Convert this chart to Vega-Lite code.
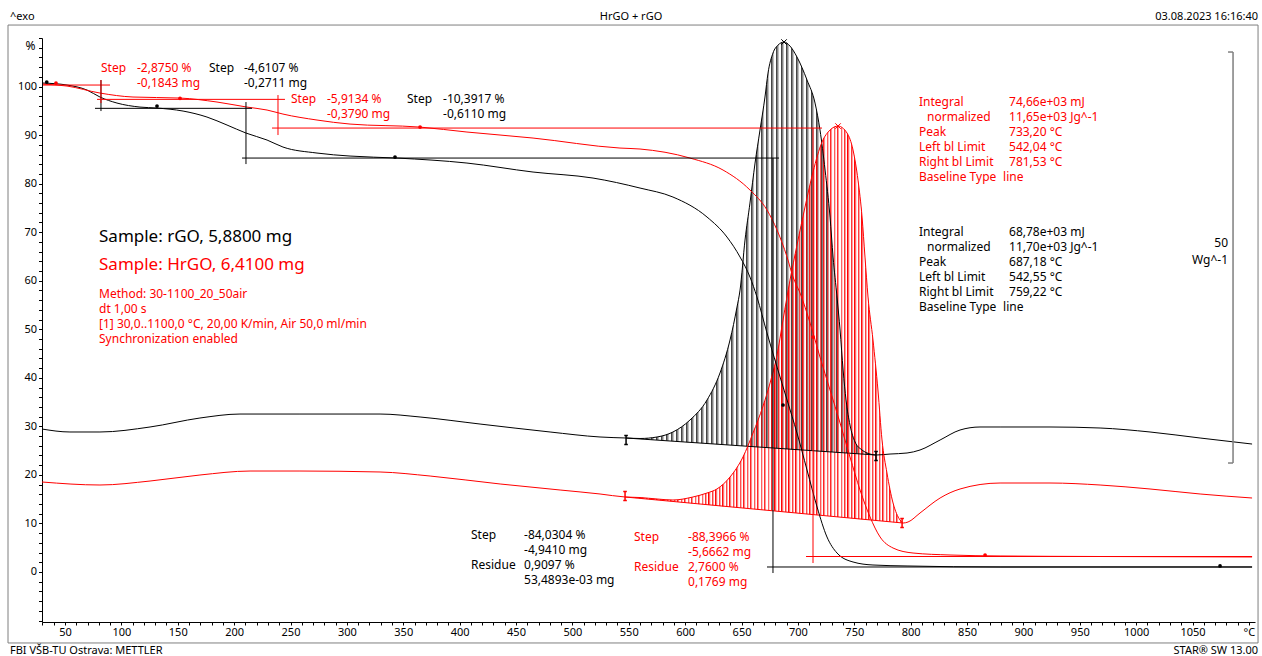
{
"$schema":"https://vega.github.io/schema/vega-lite/v6.json",
"width":1213,"height":584,
"autosize":{"type":"none"},
"padding":{"left":42,"top":38,"right":7,"bottom":34},
"background":"white",
"config":{"view":{"stroke":null},"font":"Noto Sans","text":{"font":"Noto Sans"},
"axis":{"grid":false,"domainColor":"#000","tickColor":"#000","labelColor":"#000","labelFont":"Noto Sans","labelFontSize":11,"titleFont":"Noto Sans","titleColor":"#000","labelOverlap":false}},
"datasets":{
"dsc":[
{"s":"rGO","T":29.6,"v":29.45},{"s":"rGO","T":54.4,"v":28.84},{"s":"rGO","T":81.0,"v":28.84},{"s":"rGO","T":125.4,"v":29.87},{"s":"rGO","T":169.7,"v":31.72},{"s":"rGO","T":205.2,"v":32.54},{"s":"rGO","T":258.4,"v":32.54},{"s":"rGO","T":329.4,"v":32.54},{"s":"rGO","T":364.9,"v":31.93},{"s":"rGO","T":418.1,"v":30.48},{"s":"rGO","T":480.2,"v":28.84},{"s":"rGO","T":524.5,"v":27.81},
{"s":"rGO","T":547.6,"v":27.6,"b":27.6},{"s":"rGO","T":560.0,"v":27.5,"b":27.4},{"s":"rGO","T":575.1,"v":27.81,"b":27.17},{"s":"rGO","T":589.2,"v":28.84,"b":26.94},{"s":"rGO","T":604.3,"v":31.31,"b":26.7},{"s":"rGO","T":619.4,"v":35.43,"b":26.47},{"s":"rGO","T":630.9,"v":40.99,"b":26.28},{"s":"rGO","T":639.8,"v":47.79,"b":26.14},{"s":"rGO","T":646.0,"v":54.58,"b":26.05},{"s":"rGO","T":648.7,"v":58.08,"b":26.0},{"s":"rGO","T":653.1,"v":68.38,"b":25.93},{"s":"rGO","T":657.5,"v":76.0,"b":25.87},{"s":"rGO","T":662.0,"v":84.24,"b":25.79},{"s":"rGO","T":666.4,"v":91.04,"b":25.73},{"s":"rGO","T":670.8,"v":97.84,"b":25.65},{"s":"rGO","T":673.5,"v":102.78,"b":25.6},{"s":"rGO","T":677.9,"v":106.9,"b":25.54},{"s":"rGO","T":682.4,"v":108.55,"b":25.47},{"s":"rGO","T":687.7,"v":109.17,"b":25.39},{"s":"rGO","T":693.0,"v":108.34,"b":25.3},{"s":"rGO","T":699.2,"v":106.08,"b":25.2},{"s":"rGO","T":708.1,"v":101.34,"b":25.06},{"s":"rGO","T":715.2,"v":96.6,"b":24.95},{"s":"rGO","T":719.6,"v":91.04,"b":24.88},{"s":"rGO","T":724.1,"v":82.8,"b":24.82},{"s":"rGO","T":728.5,"v":73.12,"b":24.74},{"s":"rGO","T":731.2,"v":64.88,"b":24.7},{"s":"rGO","T":734.7,"v":56.64,"b":24.64},{"s":"rGO","T":737.4,"v":49.85,"b":24.6},{"s":"rGO","T":740.1,"v":41.61,"b":24.55},{"s":"rGO","T":742.7,"v":35.43,"b":24.51},{"s":"rGO","T":746.2,"v":30.28,"b":24.47},{"s":"rGO","T":750.7,"v":26.78,"b":24.39},{"s":"rGO","T":756.9,"v":25.13,"b":24.29},{"s":"rGO","T":764.0,"v":24.3,"b":24.18},{"s":"rGO","T":769.3,"v":24.1,"b":24.1},
{"s":"rGO","T":781.7,"v":24.3},{"s":"rGO","T":796.8,"v":24.51},{"s":"rGO","T":808.3,"v":25.13},{"s":"rGO","T":826.1,"v":27.19},{"s":"rGO","T":843.8,"v":29.25},{"s":"rGO","T":861.5,"v":29.87},{"s":"rGO","T":879.3,"v":29.87},{"s":"rGO","T":923.6,"v":29.87},{"s":"rGO","T":968.0,"v":29.66},{"s":"rGO","T":1012.3,"v":28.84},{"s":"rGO","T":1056.7,"v":27.6},{"s":"rGO","T":1102.8,"v":26.36},
{"s":"HrGO","T":29.6,"v":18.54},{"s":"HrGO","T":81.0,"v":17.92},{"s":"HrGO","T":125.4,"v":18.74},{"s":"HrGO","T":169.7,"v":19.98},{"s":"HrGO","T":214.1,"v":20.8},{"s":"HrGO","T":258.4,"v":20.8},{"s":"HrGO","T":329.4,"v":20.6},{"s":"HrGO","T":373.8,"v":19.77},{"s":"HrGO","T":435.9,"v":18.13},{"s":"HrGO","T":489.1,"v":16.89},{"s":"HrGO","T":524.5,"v":16.07},
{"s":"HrGO","T":546.7,"v":15.45,"b":15.45},{"s":"HrGO","T":560.0,"v":15.34,"b":15.16},{"s":"HrGO","T":575.1,"v":15.04,"b":14.83},{"s":"HrGO","T":589.2,"v":14.83,"b":14.52},{"s":"HrGO","T":606.9,"v":15.45,"b":14.13},{"s":"HrGO","T":619.4,"v":16.27,"b":13.86},{"s":"HrGO","T":628.2,"v":17.1,"b":13.67},{"s":"HrGO","T":639.8,"v":19.57,"b":13.41},{"s":"HrGO","T":651.3,"v":23.69,"b":13.16},{"s":"HrGO","T":660.2,"v":28.63,"b":12.98},{"s":"HrGO","T":669.1,"v":34.19,"b":12.77},{"s":"HrGO","T":675.3,"v":38.93,"b":12.65},{"s":"HrGO","T":681.5,"v":44.7,"b":12.5},{"s":"HrGO","T":686.8,"v":51.91,"b":12.4},{"s":"HrGO","T":693.0,"v":60.14,"b":12.26},{"s":"HrGO","T":699.2,"v":67.35,"b":12.13},{"s":"HrGO","T":706.3,"v":75.18,"b":11.97},{"s":"HrGO","T":713.4,"v":82.39,"b":11.82},{"s":"HrGO","T":721.4,"v":88.57,"b":11.64},{"s":"HrGO","T":728.5,"v":91.04,"b":11.49},{"s":"HrGO","T":735.6,"v":91.86,"b":11.33},{"s":"HrGO","T":743.6,"v":90.42,"b":11.16},{"s":"HrGO","T":748.9,"v":86.92,"b":11.04},{"s":"HrGO","T":753.3,"v":80.74,"b":10.94},{"s":"HrGO","T":756.9,"v":73.12,"b":10.88},{"s":"HrGO","T":759.5,"v":64.88,"b":10.81},{"s":"HrGO","T":762.2,"v":56.64,"b":10.75},{"s":"HrGO","T":766.6,"v":47.79,"b":10.65},{"s":"HrGO","T":771.0,"v":37.49,"b":10.57},{"s":"HrGO","T":774.6,"v":27.19,"b":10.48},{"s":"HrGO","T":779.0,"v":20.39,"b":10.38},{"s":"HrGO","T":784.4,"v":14.21,"b":10.26},{"s":"HrGO","T":790.6,"v":10.71,"b":10.13},{"s":"HrGO","T":793.3,"v":10.09,"b":10.09},
{"s":"HrGO","T":797.7,"v":10.3},{"s":"HrGO","T":808.3,"v":12.15},{"s":"HrGO","T":826.1,"v":15.24},{"s":"HrGO","T":843.8,"v":17.1},{"s":"HrGO","T":879.3,"v":18.33},{"s":"HrGO","T":923.6,"v":18.33},{"s":"HrGO","T":968.0,"v":17.92},{"s":"HrGO","T":1012.3,"v":17.1},{"s":"HrGO","T":1056.7,"v":16.07},{"s":"HrGO","T":1102.8,"v":15.24}
],
"baselines":[
{"s":"rGO","T":547.6,"v":27.6},{"s":"rGO","T":769.3,"v":24.1},
{"s":"HrGO","T":546.7,"v":15.45},{"s":"HrGO","T":793.3,"v":10.09}
],
"tga":[
{"s":"rGO","T":30.5,"v":100.72},{"s":"rGO","T":51.8,"v":100.31},{"s":"rGO","T":69.5,"v":99.28},{"s":"rGO","T":81.0,"v":97.84},{"s":"rGO","T":96.1,"v":96.6},{"s":"rGO","T":116.5,"v":95.77},{"s":"rGO","T":131.6,"v":95.57},{"s":"rGO","T":154.7,"v":94.95},{"s":"rGO","T":175.9,"v":93.72},{"s":"rGO","T":193.7,"v":92.07},{"s":"rGO","T":210.5,"v":90.42},{"s":"rGO","T":229.2,"v":88.98},{"s":"rGO","T":243.3,"v":87.54},{"s":"rGO","T":273.5,"v":86.3},{"s":"rGO","T":302.8,"v":85.68},{"s":"rGO","T":344.5,"v":85.27},{"s":"rGO","T":406.5,"v":84.24},{"s":"rGO","T":465.1,"v":82.39},{"s":"rGO","T":518.3,"v":81.15},{"s":"rGO","T":560.0,"v":79.09},{"s":"rGO","T":589.2,"v":77.24},{"s":"rGO","T":619.4,"v":73.12},{"s":"rGO","T":637.1,"v":69.0},{"s":"rGO","T":648.7,"v":64.88},{"s":"rGO","T":657.5,"v":60.76},{"s":"rGO","T":663.7,"v":56.64},{"s":"rGO","T":672.6,"v":49.23},{"s":"rGO","T":681.5,"v":42.22},{"s":"rGO","T":690.4,"v":35.43},{"s":"rGO","T":699.2,"v":28.63},{"s":"rGO","T":708.1,"v":21.01},{"s":"rGO","T":717.0,"v":13.39},{"s":"rGO","T":725.8,"v":7.21},{"s":"rGO","T":734.7,"v":3.91},{"s":"rGO","T":748.9,"v":2.06},{"s":"rGO","T":766.6,"v":1.44},{"s":"rGO","T":796.8,"v":1.24},{"s":"rGO","T":879.3,"v":1.03},{"s":"rGO","T":968.0,"v":1.03},{"s":"rGO","T":1102.8,"v":1.03},
{"s":"HrGO","T":30.5,"v":100.51},{"s":"HrGO","T":51.8,"v":100.1},{"s":"HrGO","T":81.0,"v":98.66},{"s":"HrGO","T":110.3,"v":97.84},{"s":"HrGO","T":152.0,"v":97.63},{"s":"HrGO","T":184.8,"v":96.81},{"s":"HrGO","T":211.4,"v":95.77},{"s":"HrGO","T":229.2,"v":95.16},{"s":"HrGO","T":243.3,"v":94.33},{"s":"HrGO","T":273.5,"v":93.1},{"s":"HrGO","T":302.8,"v":92.27},{"s":"HrGO","T":364.9,"v":91.65},{"s":"HrGO","T":406.5,"v":90.63},{"s":"HrGO","T":465.1,"v":89.39},{"s":"HrGO","T":542.2,"v":87.33},{"s":"HrGO","T":560.0,"v":87.13},{"s":"HrGO","T":604.3,"v":85.27},{"s":"HrGO","T":633.6,"v":82.8},{"s":"HrGO","T":657.5,"v":78.68},{"s":"HrGO","T":672.6,"v":74.56},{"s":"HrGO","T":681.5,"v":70.44},{"s":"HrGO","T":690.4,"v":64.88},{"s":"HrGO","T":695.7,"v":60.76},{"s":"HrGO","T":701.9,"v":57.47},{"s":"HrGO","T":710.8,"v":51.29},{"s":"HrGO","T":719.6,"v":44.28},{"s":"HrGO","T":728.5,"v":37.49},{"s":"HrGO","T":737.4,"v":30.69},{"s":"HrGO","T":746.2,"v":23.69},{"s":"HrGO","T":755.1,"v":16.89},{"s":"HrGO","T":764.0,"v":11.33},{"s":"HrGO","T":772.9,"v":7.21},{"s":"HrGO","T":784.4,"v":4.94},{"s":"HrGO","T":802.1,"v":3.91},{"s":"HrGO","T":834.9,"v":3.5},{"s":"HrGO","T":879.3,"v":3.3},{"s":"HrGO","T":968.0,"v":3.19},{"s":"HrGO","T":1102.8,"v":3.09}
],
"steps":[
{"s":"HrGO","T":30.5,"T2":89.9,"v":100.31,"v2":100.31},
{"s":"rGO","T":81.9,"T2":81.9,"v":101.34,"v2":94.95},
{"s":"HrGO","T":81.9,"T2":81.9,"v":101.34,"v2":96.6},
{"s":"HrGO","T":78.4,"T2":245.1,"v":97.36,"v2":97.36},
{"s":"rGO","T":76.6,"T2":215.9,"v":95.51,"v2":95.51},
{"s":"rGO","T":210.5,"T2":210.5,"v":96.81,"v2":84.03},
{"s":"rGO","T":207.0,"T2":683.3,"v":85.27,"v2":85.27},
{"s":"HrGO","T":238.9,"T2":238.9,"v":98.25,"v2":90.01},
{"s":"HrGO","T":233.6,"T2":721.4,"v":91.45,"v2":91.45},
{"s":"rGO","T":677.9,"T2":677.9,"v":85.27,"v2":-0.21},
{"s":"rGO","T":672.6,"T2":1102.8,"v":1.03,"v2":1.03},
{"s":"HrGO","T":713.4,"T2":713.4,"v":91.45,"v2":1.85},
{"s":"HrGO","T":707.2,"T2":1102.8,"v":3.19,"v2":3.19}
],
"frame":[{"s":"frame","T":-0.55,"T2":1108.09,"v":112.67,"v2":-14.62}],
"bracket":[
{"s":"frame","T":1085.92,"T2":1085.92,"v":107.11,"v2":22.45},
{"s":"frame","T":1081.48,"T2":1085.92,"v":107.11,"v2":107.11},
{"s":"frame","T":1081.48,"T2":1085.92,"v":22.45,"v2":22.45}
],
"pins":[
{"s":"rGO","T":33.8,"v":100.93},{"s":"rGO","T":131.6,"v":95.98},{"s":"rGO","T":342.7,"v":85.48},{"s":"rGO","T":686.8,"v":34.4},{"s":"rGO","T":1074.4,"v":1.24},
{"s":"HrGO","T":42.0,"v":100.72},{"s":"HrGO","T":152.0,"v":97.57},{"s":"HrGO","T":364.9,"v":91.66},{"s":"HrGO","T":713.4,"v":48.4},{"s":"HrGO","T":866.0,"v":3.5}
],
"limits":[
{"s":"rGO","T":547.6,"v":27.19},{"s":"rGO","T":769.3,"v":23.89},{"s":"HrGO","T":546.7,"v":15.65},{"s":"HrGO","T":792.4,"v":10.09}
],
"peaks":[{"s":"rGO","T":687.7,"v":109.17},{"s":"HrGO","T":735.6,"v":91.86}],
"notes":[
{"s":"HrGO","txt":"Step","T":81.93,"v":103.81},{"s":"HrGO","txt":"-2,8750 %","T":113.86,"v":103.81},{"s":"HrGO","txt":"-0,1843 mg","T":113.86,"v":100.72},
{"s":"rGO","txt":"Step","T":177.72,"v":103.81},{"s":"rGO","txt":"-4,6107 %","T":208.76,"v":103.81},{"s":"rGO","txt":"-0,2711 mg","T":208.76,"v":100.72},
{"s":"HrGO","txt":"Step","T":250.44,"v":97.42},{"s":"HrGO","txt":"-5,9134 %","T":282.37,"v":97.42},{"s":"HrGO","txt":"-0,3790 mg","T":282.37,"v":94.33},
{"s":"rGO","txt":"Step","T":353.33,"v":97.42},{"s":"rGO","txt":"-10,3917 %","T":385.26,"v":97.42},{"s":"rGO","txt":"-0,6110 mg","T":385.26,"v":94.33},
{"s":"rGO","txt":"Step","T":410.09,"v":7.62},{"s":"rGO","txt":"-84,0304 %","T":457.1,"v":7.62},{"s":"rGO","txt":"-4,9410 mg","T":457.1,"v":4.53},{"s":"rGO","txt":"Residue","T":410.09,"v":1.44},{"s":"rGO","txt":"0,9097 %","T":457.1,"v":1.44},{"s":"rGO","txt":"53,4893e-03 mg","T":457.1,"v":-1.65},
{"s":"HrGO","txt":"Step","T":554.66,"v":7.21},{"s":"HrGO","txt":"-88,3966 %","T":602.55,"v":7.21},{"s":"HrGO","txt":"-5,6662 mg","T":602.55,"v":4.12},{"s":"HrGO","txt":"Residue","T":554.66,"v":1.03},{"s":"HrGO","txt":"2,7600 %","T":602.55,"v":1.03},{"s":"HrGO","txt":"0,1769 mg","T":602.55,"v":-2.06},
{"s":"HrGO","txt":"Method: 30-1100_20_50air","T":80.16,"v":57.26},{"s":"HrGO","txt":"dt 1,00 s","T":80.16,"v":54.17},{"s":"HrGO","txt":"[1] 30,0..1100,0 °C, 20,00 K/min, Air 50,0 ml/min","T":80.16,"v":51.08},{"s":"HrGO","txt":"Synchronization enabled","T":80.16,"v":47.99},
{"s":"HrGO","txt":"Integral","T":807.43,"v":96.81},{"s":"HrGO","txt":"normalized","T":814.52,"v":93.72},{"s":"HrGO","txt":"Peak","T":807.43,"v":90.63},{"s":"HrGO","txt":"Left bl Limit","T":807.43,"v":87.54},{"s":"HrGO","txt":"Right bl Limit","T":807.43,"v":84.45},{"s":"HrGO","txt":"Baseline Type","T":807.43,"v":81.36},
{"s":"HrGO","txt":"74,66e+03 mJ","T":887.25,"v":96.81},{"s":"HrGO","txt":"11,65e+03 Jg^-1","T":887.25,"v":93.72},{"s":"HrGO","txt":"733,20 °C","T":887.25,"v":90.63},{"s":"HrGO","txt":"542,04 °C","T":887.25,"v":87.54},{"s":"HrGO","txt":"781,53 °C","T":887.25,"v":84.45},{"s":"HrGO","txt":"line","T":881.93,"v":81.36},
{"s":"rGO","txt":"Integral","T":807.43,"v":70.03},{"s":"rGO","txt":"normalized","T":814.52,"v":66.94},{"s":"rGO","txt":"Peak","T":807.43,"v":63.85},{"s":"rGO","txt":"Left bl Limit","T":807.43,"v":60.76},{"s":"rGO","txt":"Right bl Limit","T":807.43,"v":57.67},{"s":"rGO","txt":"Baseline Type","T":807.43,"v":54.58},
{"s":"rGO","txt":"68,78e+03 mJ","T":887.25,"v":70.03},{"s":"rGO","txt":"11,70e+03 Jg^-1","T":887.25,"v":66.94},{"s":"rGO","txt":"687,18 °C","T":887.25,"v":63.85},{"s":"rGO","txt":"542,55 °C","T":887.25,"v":60.76},{"s":"rGO","txt":"759,22 °C","T":887.25,"v":57.67},{"s":"rGO","txt":"line","T":881.93,"v":54.58}
],
"samples":[
{"s":"rGO","txt":"Sample: rGO, 5,8800 mg","T":80.16,"v":69.0},
{"s":"HrGO","txt":"Sample: HrGO, 6,4100 mg","T":80.16,"v":63.23}
],
"rnotes":[
{"s":"plain","txt":"50","T":1081.48,"v":67.76},
{"s":"plain","txt":"Wg^-1","T":1081.48,"v":64.26}
],
"heads":[
{"s":"plain","txt":"^exo","T":1.22,"v":114.31},
{"s":"plain","txt":"FBI VŠB-TU Ostrava: METTLER","T":1.22,"v":-16.27}
],
"rheads":[
{"s":"plain","txt":"03.08.2023 16:16:40","T":1108.09,"v":114.31},
{"s":"plain","txt":"STAR® SW 13.00","T":1108.09,"v":-16.27}
],
"ctitle":[{"s":"plain","txt":"HrGO + rGO","T":552.0,"v":114.31}]
},
"encoding":{
"x":{"field":"T","type":"quantitative","scale":{"domain":[29.6,1105.4],"nice":false,"zero":false},
"axis":{"title":null,"values":[30,40,50,60,70,80,90,100,110,120,130,140,150,160,170,180,190,200,210,220,230,240,250,260,270,280,290,300,310,320,330,340,350,360,370,380,390,400,410,420,430,440,450,460,470,480,490,500,510,520,530,540,550,560,570,580,590,600,610,620,630,640,650,660,670,680,690,700,710,720,730,740,750,760,770,780,790,800,810,820,830,840,850,860,870,880,890,900,910,920,930,940,950,960,970,980,990,1000,1010,1020,1030,1040,1050,1060,1070,1080,1090,1100],"format":"d","labelExpr":"datum.value === 1100 ? '°C' : (datum.value % 50 === 0 ? datum.label : '')","tickSize":3,"labelPadding":1,"labelFlush":false,"labelOverlap":false}},
"y":{"field":"v","type":"quantitative","scale":{"domain":[-10.3,110],"nice":false,"zero":false},
"axis":{"title":"%","titleAngle":0,"titleX":-12,"titleY":7,"titleAlign":"center","titleBaseline":"middle","titleFontWeight":"normal","titleFontSize":12,"values":[-10,-8,-6,-4,-2,0,2,4,6,8,10,12,14,16,18,20,22,24,26,28,30,32,34,36,38,40,42,44,46,48,50,52,54,56,58,60,62,64,66,68,70,72,74,76,78,80,82,84,86,88,90,92,94,96,98,100,102,104,106,108,110],"labelExpr":"datum.value >= 0 && datum.value <= 100 && datum.value % 10 === 0 ? datum.label : ''","tickSize":3.5,"labelPadding":2,"labelOverlap":false}}
},
"layer":[
{"data":{"name":"dsc"},"transform":[{"filter":"datum.s === 'rGO' && isValid(datum.b)"}],
"mark":{"type":"area","stroke":null,"interpolate":"monotone","fill":{"gradient":"linear","x1":0,"y1":0,"x2":1,"y2":0,"stops":[
{"offset":0,"color":"#2a2a2a"},{"offset":0.014,"color":"rgba(42,42,42,0)"},
{"offset":0.02,"color":"rgba(42,42,42,0)"},{"offset":0.02,"color":"#2a2a2a"},{"offset":0.034,"color":"rgba(42,42,42,0)"},
{"offset":0.04,"color":"rgba(42,42,42,0)"},{"offset":0.04,"color":"#2a2a2a"},{"offset":0.054,"color":"rgba(42,42,42,0)"},
{"offset":0.06,"color":"rgba(42,42,42,0)"},{"offset":0.06,"color":"#2a2a2a"},{"offset":0.074,"color":"rgba(42,42,42,0)"},
{"offset":0.08,"color":"rgba(42,42,42,0)"},{"offset":0.08,"color":"#2a2a2a"},{"offset":0.094,"color":"rgba(42,42,42,0)"},
{"offset":0.1,"color":"rgba(42,42,42,0)"},{"offset":0.1,"color":"#2a2a2a"},{"offset":0.114,"color":"rgba(42,42,42,0)"},
{"offset":0.12,"color":"rgba(42,42,42,0)"},{"offset":0.12,"color":"#2a2a2a"},{"offset":0.134,"color":"rgba(42,42,42,0)"},
{"offset":0.14,"color":"rgba(42,42,42,0)"},{"offset":0.14,"color":"#2a2a2a"},{"offset":0.154,"color":"rgba(42,42,42,0)"},
{"offset":0.16,"color":"rgba(42,42,42,0)"},{"offset":0.16,"color":"#2a2a2a"},{"offset":0.174,"color":"rgba(42,42,42,0)"},
{"offset":0.18,"color":"rgba(42,42,42,0)"},{"offset":0.18,"color":"#2a2a2a"},{"offset":0.194,"color":"rgba(42,42,42,0)"},
{"offset":0.2,"color":"rgba(42,42,42,0)"},{"offset":0.2,"color":"#2a2a2a"},{"offset":0.214,"color":"rgba(42,42,42,0)"},
{"offset":0.22,"color":"rgba(42,42,42,0)"},{"offset":0.22,"color":"#2a2a2a"},{"offset":0.234,"color":"rgba(42,42,42,0)"},
{"offset":0.24,"color":"rgba(42,42,42,0)"},{"offset":0.24,"color":"#2a2a2a"},{"offset":0.254,"color":"rgba(42,42,42,0)"},
{"offset":0.26,"color":"rgba(42,42,42,0)"},{"offset":0.26,"color":"#2a2a2a"},{"offset":0.274,"color":"rgba(42,42,42,0)"},
{"offset":0.28,"color":"rgba(42,42,42,0)"},{"offset":0.28,"color":"#2a2a2a"},{"offset":0.294,"color":"rgba(42,42,42,0)"},
{"offset":0.3,"color":"rgba(42,42,42,0)"},{"offset":0.3,"color":"#2a2a2a"},{"offset":0.314,"color":"rgba(42,42,42,0)"},
{"offset":0.32,"color":"rgba(42,42,42,0)"},{"offset":0.32,"color":"#2a2a2a"},{"offset":0.334,"color":"rgba(42,42,42,0)"},
{"offset":0.34,"color":"rgba(42,42,42,0)"},{"offset":0.34,"color":"#2a2a2a"},{"offset":0.354,"color":"rgba(42,42,42,0)"},
{"offset":0.36,"color":"rgba(42,42,42,0)"},{"offset":0.36,"color":"#2a2a2a"},{"offset":0.374,"color":"rgba(42,42,42,0)"},
{"offset":0.38,"color":"rgba(42,42,42,0)"},{"offset":0.38,"color":"#2a2a2a"},{"offset":0.394,"color":"rgba(42,42,42,0)"},
{"offset":0.4,"color":"rgba(42,42,42,0)"},{"offset":0.4,"color":"#2a2a2a"},{"offset":0.414,"color":"rgba(42,42,42,0)"},
{"offset":0.42,"color":"rgba(42,42,42,0)"},{"offset":0.42,"color":"#2a2a2a"},{"offset":0.434,"color":"rgba(42,42,42,0)"},
{"offset":0.44,"color":"rgba(42,42,42,0)"},{"offset":0.44,"color":"#2a2a2a"},{"offset":0.454,"color":"rgba(42,42,42,0)"},
{"offset":0.46,"color":"rgba(42,42,42,0)"},{"offset":0.46,"color":"#2a2a2a"},{"offset":0.474,"color":"rgba(42,42,42,0)"},
{"offset":0.48,"color":"rgba(42,42,42,0)"},{"offset":0.48,"color":"#2a2a2a"},{"offset":0.494,"color":"rgba(42,42,42,0)"},
{"offset":0.5,"color":"rgba(42,42,42,0)"},{"offset":0.5,"color":"#2a2a2a"},{"offset":0.514,"color":"rgba(42,42,42,0)"},
{"offset":0.52,"color":"rgba(42,42,42,0)"},{"offset":0.52,"color":"#2a2a2a"},{"offset":0.534,"color":"rgba(42,42,42,0)"},
{"offset":0.54,"color":"rgba(42,42,42,0)"},{"offset":0.54,"color":"#2a2a2a"},{"offset":0.554,"color":"rgba(42,42,42,0)"},
{"offset":0.56,"color":"rgba(42,42,42,0)"},{"offset":0.56,"color":"#2a2a2a"},{"offset":0.574,"color":"rgba(42,42,42,0)"},
{"offset":0.58,"color":"rgba(42,42,42,0)"},{"offset":0.58,"color":"#2a2a2a"},{"offset":0.594,"color":"rgba(42,42,42,0)"},
{"offset":0.6,"color":"rgba(42,42,42,0)"},{"offset":0.6,"color":"#2a2a2a"},{"offset":0.614,"color":"rgba(42,42,42,0)"},
{"offset":0.62,"color":"rgba(42,42,42,0)"},{"offset":0.62,"color":"#2a2a2a"},{"offset":0.634,"color":"rgba(42,42,42,0)"},
{"offset":0.64,"color":"rgba(42,42,42,0)"},{"offset":0.64,"color":"#2a2a2a"},{"offset":0.654,"color":"rgba(42,42,42,0)"},
{"offset":0.66,"color":"rgba(42,42,42,0)"},{"offset":0.66,"color":"#2a2a2a"},{"offset":0.674,"color":"rgba(42,42,42,0)"},
{"offset":0.68,"color":"rgba(42,42,42,0)"},{"offset":0.68,"color":"#2a2a2a"},{"offset":0.694,"color":"rgba(42,42,42,0)"},
{"offset":0.7,"color":"rgba(42,42,42,0)"},{"offset":0.7,"color":"#2a2a2a"},{"offset":0.714,"color":"rgba(42,42,42,0)"},
{"offset":0.72,"color":"rgba(42,42,42,0)"},{"offset":0.72,"color":"#2a2a2a"},{"offset":0.734,"color":"rgba(42,42,42,0)"},
{"offset":0.74,"color":"rgba(42,42,42,0)"},{"offset":0.74,"color":"#2a2a2a"},{"offset":0.754,"color":"rgba(42,42,42,0)"},
{"offset":0.76,"color":"rgba(42,42,42,0)"},{"offset":0.76,"color":"#2a2a2a"},{"offset":0.774,"color":"rgba(42,42,42,0)"},
{"offset":0.78,"color":"rgba(42,42,42,0)"},{"offset":0.78,"color":"#2a2a2a"},{"offset":0.794,"color":"rgba(42,42,42,0)"},
{"offset":0.8,"color":"rgba(42,42,42,0)"},{"offset":0.8,"color":"#2a2a2a"},{"offset":0.814,"color":"rgba(42,42,42,0)"},
{"offset":0.82,"color":"rgba(42,42,42,0)"},{"offset":0.82,"color":"#2a2a2a"},{"offset":0.834,"color":"rgba(42,42,42,0)"},
{"offset":0.84,"color":"rgba(42,42,42,0)"},{"offset":0.84,"color":"#2a2a2a"},{"offset":0.854,"color":"rgba(42,42,42,0)"},
{"offset":0.86,"color":"rgba(42,42,42,0)"},{"offset":0.86,"color":"#2a2a2a"},{"offset":0.874,"color":"rgba(42,42,42,0)"},
{"offset":0.88,"color":"rgba(42,42,42,0)"},{"offset":0.88,"color":"#2a2a2a"},{"offset":0.894,"color":"rgba(42,42,42,0)"},
{"offset":0.9,"color":"rgba(42,42,42,0)"},{"offset":0.9,"color":"#2a2a2a"},{"offset":0.914,"color":"rgba(42,42,42,0)"},
{"offset":0.92,"color":"rgba(42,42,42,0)"},{"offset":0.92,"color":"#2a2a2a"},{"offset":0.934,"color":"rgba(42,42,42,0)"},
{"offset":0.94,"color":"rgba(42,42,42,0)"},{"offset":0.94,"color":"#2a2a2a"},{"offset":0.954,"color":"rgba(42,42,42,0)"},
{"offset":0.96,"color":"rgba(42,42,42,0)"},{"offset":0.96,"color":"#2a2a2a"},{"offset":0.974,"color":"rgba(42,42,42,0)"},
{"offset":0.98,"color":"rgba(42,42,42,0)"},{"offset":0.98,"color":"#2a2a2a"},{"offset":0.994,"color":"rgba(42,42,42,0)"},
{"offset":1,"color":"rgba(42,42,42,0)"}
]}},
"encoding":{"y2":{"field":"b"}}},
{"data":{"name":"dsc"},"transform":[{"filter":"datum.s === 'HrGO' && isValid(datum.b)"}],
"mark":{"type":"area","stroke":null,"interpolate":"monotone","fill":{"gradient":"linear","x1":0,"y1":0,"x2":1,"y2":0,"stops":[
{"offset":0,"color":"#ff0000"},{"offset":0.0088,"color":"rgba(255,0,0,0)"},
{"offset":0.0125,"color":"rgba(255,0,0,0)"},{"offset":0.0125,"color":"#ff0000"},{"offset":0.0213,"color":"rgba(255,0,0,0)"},
{"offset":0.025,"color":"rgba(255,0,0,0)"},{"offset":0.025,"color":"#ff0000"},{"offset":0.0338,"color":"rgba(255,0,0,0)"},
{"offset":0.0375,"color":"rgba(255,0,0,0)"},{"offset":0.0375,"color":"#ff0000"},{"offset":0.0463,"color":"rgba(255,0,0,0)"},
{"offset":0.05,"color":"rgba(255,0,0,0)"},{"offset":0.05,"color":"#ff0000"},{"offset":0.0588,"color":"rgba(255,0,0,0)"},
{"offset":0.0625,"color":"rgba(255,0,0,0)"},{"offset":0.0625,"color":"#ff0000"},{"offset":0.0713,"color":"rgba(255,0,0,0)"},
{"offset":0.075,"color":"rgba(255,0,0,0)"},{"offset":0.075,"color":"#ff0000"},{"offset":0.0838,"color":"rgba(255,0,0,0)"},
{"offset":0.0875,"color":"rgba(255,0,0,0)"},{"offset":0.0875,"color":"#ff0000"},{"offset":0.0963,"color":"rgba(255,0,0,0)"},
{"offset":0.1,"color":"rgba(255,0,0,0)"},{"offset":0.1,"color":"#ff0000"},{"offset":0.1088,"color":"rgba(255,0,0,0)"},
{"offset":0.1125,"color":"rgba(255,0,0,0)"},{"offset":0.1125,"color":"#ff0000"},{"offset":0.1213,"color":"rgba(255,0,0,0)"},
{"offset":0.125,"color":"rgba(255,0,0,0)"},{"offset":0.125,"color":"#ff0000"},{"offset":0.1338,"color":"rgba(255,0,0,0)"},
{"offset":0.1375,"color":"rgba(255,0,0,0)"},{"offset":0.1375,"color":"#ff0000"},{"offset":0.1463,"color":"rgba(255,0,0,0)"},
{"offset":0.15,"color":"rgba(255,0,0,0)"},{"offset":0.15,"color":"#ff0000"},{"offset":0.1588,"color":"rgba(255,0,0,0)"},
{"offset":0.1625,"color":"rgba(255,0,0,0)"},{"offset":0.1625,"color":"#ff0000"},{"offset":0.1713,"color":"rgba(255,0,0,0)"},
{"offset":0.175,"color":"rgba(255,0,0,0)"},{"offset":0.175,"color":"#ff0000"},{"offset":0.1838,"color":"rgba(255,0,0,0)"},
{"offset":0.1875,"color":"rgba(255,0,0,0)"},{"offset":0.1875,"color":"#ff0000"},{"offset":0.1963,"color":"rgba(255,0,0,0)"},
{"offset":0.2,"color":"rgba(255,0,0,0)"},{"offset":0.2,"color":"#ff0000"},{"offset":0.2088,"color":"rgba(255,0,0,0)"},
{"offset":0.2125,"color":"rgba(255,0,0,0)"},{"offset":0.2125,"color":"#ff0000"},{"offset":0.2213,"color":"rgba(255,0,0,0)"},
{"offset":0.225,"color":"rgba(255,0,0,0)"},{"offset":0.225,"color":"#ff0000"},{"offset":0.2338,"color":"rgba(255,0,0,0)"},
{"offset":0.2375,"color":"rgba(255,0,0,0)"},{"offset":0.2375,"color":"#ff0000"},{"offset":0.2463,"color":"rgba(255,0,0,0)"},
{"offset":0.25,"color":"rgba(255,0,0,0)"},{"offset":0.25,"color":"#ff0000"},{"offset":0.2588,"color":"rgba(255,0,0,0)"},
{"offset":0.2625,"color":"rgba(255,0,0,0)"},{"offset":0.2625,"color":"#ff0000"},{"offset":0.2713,"color":"rgba(255,0,0,0)"},
{"offset":0.275,"color":"rgba(255,0,0,0)"},{"offset":0.275,"color":"#ff0000"},{"offset":0.2838,"color":"rgba(255,0,0,0)"},
{"offset":0.2875,"color":"rgba(255,0,0,0)"},{"offset":0.2875,"color":"#ff0000"},{"offset":0.2963,"color":"rgba(255,0,0,0)"},
{"offset":0.3,"color":"rgba(255,0,0,0)"},{"offset":0.3,"color":"#ff0000"},{"offset":0.3088,"color":"rgba(255,0,0,0)"},
{"offset":0.3125,"color":"rgba(255,0,0,0)"},{"offset":0.3125,"color":"#ff0000"},{"offset":0.3213,"color":"rgba(255,0,0,0)"},
{"offset":0.325,"color":"rgba(255,0,0,0)"},{"offset":0.325,"color":"#ff0000"},{"offset":0.3338,"color":"rgba(255,0,0,0)"},
{"offset":0.3375,"color":"rgba(255,0,0,0)"},{"offset":0.3375,"color":"#ff0000"},{"offset":0.3463,"color":"rgba(255,0,0,0)"},
{"offset":0.35,"color":"rgba(255,0,0,0)"},{"offset":0.35,"color":"#ff0000"},{"offset":0.3588,"color":"rgba(255,0,0,0)"},
{"offset":0.3625,"color":"rgba(255,0,0,0)"},{"offset":0.3625,"color":"#ff0000"},{"offset":0.3713,"color":"rgba(255,0,0,0)"},
{"offset":0.375,"color":"rgba(255,0,0,0)"},{"offset":0.375,"color":"#ff0000"},{"offset":0.3838,"color":"rgba(255,0,0,0)"},
{"offset":0.3875,"color":"rgba(255,0,0,0)"},{"offset":0.3875,"color":"#ff0000"},{"offset":0.3963,"color":"rgba(255,0,0,0)"},
{"offset":0.4,"color":"rgba(255,0,0,0)"},{"offset":0.4,"color":"#ff0000"},{"offset":0.4088,"color":"rgba(255,0,0,0)"},
{"offset":0.4125,"color":"rgba(255,0,0,0)"},{"offset":0.4125,"color":"#ff0000"},{"offset":0.4213,"color":"rgba(255,0,0,0)"},
{"offset":0.425,"color":"rgba(255,0,0,0)"},{"offset":0.425,"color":"#ff0000"},{"offset":0.4338,"color":"rgba(255,0,0,0)"},
{"offset":0.4375,"color":"rgba(255,0,0,0)"},{"offset":0.4375,"color":"#ff0000"},{"offset":0.4463,"color":"rgba(255,0,0,0)"},
{"offset":0.45,"color":"rgba(255,0,0,0)"},{"offset":0.45,"color":"#ff0000"},{"offset":0.4588,"color":"rgba(255,0,0,0)"},
{"offset":0.4625,"color":"rgba(255,0,0,0)"},{"offset":0.4625,"color":"#ff0000"},{"offset":0.4713,"color":"rgba(255,0,0,0)"},
{"offset":0.475,"color":"rgba(255,0,0,0)"},{"offset":0.475,"color":"#ff0000"},{"offset":0.4838,"color":"rgba(255,0,0,0)"},
{"offset":0.4875,"color":"rgba(255,0,0,0)"},{"offset":0.4875,"color":"#ff0000"},{"offset":0.4963,"color":"rgba(255,0,0,0)"},
{"offset":0.5,"color":"rgba(255,0,0,0)"},{"offset":0.5,"color":"#ff0000"},{"offset":0.5088,"color":"rgba(255,0,0,0)"},
{"offset":0.5125,"color":"rgba(255,0,0,0)"},{"offset":0.5125,"color":"#ff0000"},{"offset":0.5213,"color":"rgba(255,0,0,0)"},
{"offset":0.525,"color":"rgba(255,0,0,0)"},{"offset":0.525,"color":"#ff0000"},{"offset":0.5338,"color":"rgba(255,0,0,0)"},
{"offset":0.5375,"color":"rgba(255,0,0,0)"},{"offset":0.5375,"color":"#ff0000"},{"offset":0.5463,"color":"rgba(255,0,0,0)"},
{"offset":0.55,"color":"rgba(255,0,0,0)"},{"offset":0.55,"color":"#ff0000"},{"offset":0.5588,"color":"rgba(255,0,0,0)"},
{"offset":0.5625,"color":"rgba(255,0,0,0)"},{"offset":0.5625,"color":"#ff0000"},{"offset":0.5713,"color":"rgba(255,0,0,0)"},
{"offset":0.575,"color":"rgba(255,0,0,0)"},{"offset":0.575,"color":"#ff0000"},{"offset":0.5838,"color":"rgba(255,0,0,0)"},
{"offset":0.5875,"color":"rgba(255,0,0,0)"},{"offset":0.5875,"color":"#ff0000"},{"offset":0.5963,"color":"rgba(255,0,0,0)"},
{"offset":0.6,"color":"rgba(255,0,0,0)"},{"offset":0.6,"color":"#ff0000"},{"offset":0.6088,"color":"rgba(255,0,0,0)"},
{"offset":0.6125,"color":"rgba(255,0,0,0)"},{"offset":0.6125,"color":"#ff0000"},{"offset":0.6213,"color":"rgba(255,0,0,0)"},
{"offset":0.625,"color":"rgba(255,0,0,0)"},{"offset":0.625,"color":"#ff0000"},{"offset":0.6338,"color":"rgba(255,0,0,0)"},
{"offset":0.6375,"color":"rgba(255,0,0,0)"},{"offset":0.6375,"color":"#ff0000"},{"offset":0.6463,"color":"rgba(255,0,0,0)"},
{"offset":0.65,"color":"rgba(255,0,0,0)"},{"offset":0.65,"color":"#ff0000"},{"offset":0.6588,"color":"rgba(255,0,0,0)"},
{"offset":0.6625,"color":"rgba(255,0,0,0)"},{"offset":0.6625,"color":"#ff0000"},{"offset":0.6713,"color":"rgba(255,0,0,0)"},
{"offset":0.675,"color":"rgba(255,0,0,0)"},{"offset":0.675,"color":"#ff0000"},{"offset":0.6838,"color":"rgba(255,0,0,0)"},
{"offset":0.6875,"color":"rgba(255,0,0,0)"},{"offset":0.6875,"color":"#ff0000"},{"offset":0.6963,"color":"rgba(255,0,0,0)"},
{"offset":0.7,"color":"rgba(255,0,0,0)"},{"offset":0.7,"color":"#ff0000"},{"offset":0.7088,"color":"rgba(255,0,0,0)"},
{"offset":0.7125,"color":"rgba(255,0,0,0)"},{"offset":0.7125,"color":"#ff0000"},{"offset":0.7213,"color":"rgba(255,0,0,0)"},
{"offset":0.725,"color":"rgba(255,0,0,0)"},{"offset":0.725,"color":"#ff0000"},{"offset":0.7338,"color":"rgba(255,0,0,0)"},
{"offset":0.7375,"color":"rgba(255,0,0,0)"},{"offset":0.7375,"color":"#ff0000"},{"offset":0.7463,"color":"rgba(255,0,0,0)"},
{"offset":0.75,"color":"rgba(255,0,0,0)"},{"offset":0.75,"color":"#ff0000"},{"offset":0.7588,"color":"rgba(255,0,0,0)"},
{"offset":0.7625,"color":"rgba(255,0,0,0)"},{"offset":0.7625,"color":"#ff0000"},{"offset":0.7713,"color":"rgba(255,0,0,0)"},
{"offset":0.775,"color":"rgba(255,0,0,0)"},{"offset":0.775,"color":"#ff0000"},{"offset":0.7838,"color":"rgba(255,0,0,0)"},
{"offset":0.7875,"color":"rgba(255,0,0,0)"},{"offset":0.7875,"color":"#ff0000"},{"offset":0.7963,"color":"rgba(255,0,0,0)"},
{"offset":0.8,"color":"rgba(255,0,0,0)"},{"offset":0.8,"color":"#ff0000"},{"offset":0.8088,"color":"rgba(255,0,0,0)"},
{"offset":0.8125,"color":"rgba(255,0,0,0)"},{"offset":0.8125,"color":"#ff0000"},{"offset":0.8213,"color":"rgba(255,0,0,0)"},
{"offset":0.825,"color":"rgba(255,0,0,0)"},{"offset":0.825,"color":"#ff0000"},{"offset":0.8338,"color":"rgba(255,0,0,0)"},
{"offset":0.8375,"color":"rgba(255,0,0,0)"},{"offset":0.8375,"color":"#ff0000"},{"offset":0.8463,"color":"rgba(255,0,0,0)"},
{"offset":0.85,"color":"rgba(255,0,0,0)"},{"offset":0.85,"color":"#ff0000"},{"offset":0.8588,"color":"rgba(255,0,0,0)"},
{"offset":0.8625,"color":"rgba(255,0,0,0)"},{"offset":0.8625,"color":"#ff0000"},{"offset":0.8713,"color":"rgba(255,0,0,0)"},
{"offset":0.875,"color":"rgba(255,0,0,0)"},{"offset":0.875,"color":"#ff0000"},{"offset":0.8838,"color":"rgba(255,0,0,0)"},
{"offset":0.8875,"color":"rgba(255,0,0,0)"},{"offset":0.8875,"color":"#ff0000"},{"offset":0.8963,"color":"rgba(255,0,0,0)"},
{"offset":0.9,"color":"rgba(255,0,0,0)"},{"offset":0.9,"color":"#ff0000"},{"offset":0.9088,"color":"rgba(255,0,0,0)"},
{"offset":0.9125,"color":"rgba(255,0,0,0)"},{"offset":0.9125,"color":"#ff0000"},{"offset":0.9213,"color":"rgba(255,0,0,0)"},
{"offset":0.925,"color":"rgba(255,0,0,0)"},{"offset":0.925,"color":"#ff0000"},{"offset":0.9338,"color":"rgba(255,0,0,0)"},
{"offset":0.9375,"color":"rgba(255,0,0,0)"},{"offset":0.9375,"color":"#ff0000"},{"offset":0.9463,"color":"rgba(255,0,0,0)"},
{"offset":0.95,"color":"rgba(255,0,0,0)"},{"offset":0.95,"color":"#ff0000"},{"offset":0.9588,"color":"rgba(255,0,0,0)"},
{"offset":0.9625,"color":"rgba(255,0,0,0)"},{"offset":0.9625,"color":"#ff0000"},{"offset":0.9713,"color":"rgba(255,0,0,0)"},
{"offset":0.975,"color":"rgba(255,0,0,0)"},{"offset":0.975,"color":"#ff0000"},{"offset":0.9838,"color":"rgba(255,0,0,0)"},
{"offset":0.9875,"color":"rgba(255,0,0,0)"},{"offset":0.9875,"color":"#ff0000"},{"offset":0.9963,"color":"rgba(255,0,0,0)"},
{"offset":1,"color":"rgba(255,0,0,0)"}
]}},
"encoding":{"y2":{"field":"b"}}},
{"data":{"name":"baselines"},
"mark":{"type":"line","strokeWidth":1},
"encoding":{"color":{"field":"s","type":"nominal","scale":{"domain":["rGO","HrGO","plain","frame"],"range":["#000000","#ff0000","#000000","#7f7f7f"]},"legend":null}}},
{"data":{"name":"dsc"},
"mark":{"type":"line","strokeWidth":1,"interpolate":"monotone"},
"encoding":{"color":{"field":"s","type":"nominal","scale":{"domain":["rGO","HrGO","plain","frame"],"range":["#000000","#ff0000","#000000","#7f7f7f"]},"legend":null}}},
{"data":{"name":"tga"},
"mark":{"type":"line","strokeWidth":1,"interpolate":"monotone"},
"encoding":{"color":{"field":"s","type":"nominal","scale":{"domain":["rGO","HrGO","plain","frame"],"range":["#000000","#ff0000","#000000","#7f7f7f"]},"legend":null}}},
{"data":{"name":"steps"},
"mark":{"type":"rule","strokeWidth":1},
"encoding":{"x2":{"field":"T2"},"y2":{"field":"v2"},
"color":{"field":"s","type":"nominal","scale":{"domain":["rGO","HrGO","plain","frame"],"range":["#000000","#ff0000","#000000","#7f7f7f"]},"legend":null}}},
{"data":{"name":"frame"},
"mark":{"type":"rect","filled":false,"strokeWidth":1},
"encoding":{"x2":{"field":"T2"},"y2":{"field":"v2"},
"color":{"field":"s","type":"nominal","scale":{"domain":["rGO","HrGO","plain","frame"],"range":["#000000","#ff0000","#000000","#7f7f7f"]},"legend":null}}},
{"data":{"name":"bracket"},
"mark":{"type":"rule","strokeWidth":1.5},
"encoding":{"x2":{"field":"T2"},"y2":{"field":"v2"},
"color":{"field":"s","type":"nominal","scale":{"domain":["rGO","HrGO","plain","frame"],"range":["#000000","#ff0000","#000000","#7f7f7f"]},"legend":null}}},
{"data":{"name":"pins"},
"mark":{"type":"point","filled":true,"size":14,"opacity":1},
"encoding":{"color":{"field":"s","type":"nominal","scale":{"domain":["rGO","HrGO","plain","frame"],"range":["#000000","#ff0000","#000000","#7f7f7f"]},"legend":null}}},
{"data":{"name":"limits"},
"mark":{"type":"point","filled":false,"shape":"M0,-1L0,1M-0.4,-1L0.4,-1M-0.4,1L0.4,1","size":80,"strokeWidth":1.5,"opacity":1},
"encoding":{"color":{"field":"s","type":"nominal","scale":{"domain":["rGO","HrGO","plain","frame"],"range":["#000000","#ff0000","#000000","#7f7f7f"]},"legend":null}}},
{"data":{"name":"peaks"},
"mark":{"type":"point","filled":false,"shape":"M-1,-1L1,1M-1,1L1,-1","size":30,"strokeWidth":1,"opacity":1},
"encoding":{"color":{"field":"s","type":"nominal","scale":{"domain":["rGO","HrGO","plain","frame"],"range":["#000000","#ff0000","#000000","#7f7f7f"]},"legend":null}}},
{"data":{"name":"notes"},
"mark":{"type":"text","align":"left","baseline":"middle","fontSize":12,"font":"Noto Sans"},
"encoding":{"text":{"field":"txt"},
"color":{"field":"s","type":"nominal","scale":{"domain":["rGO","HrGO","plain","frame"],"range":["#000000","#ff0000","#000000","#7f7f7f"]},"legend":null}}},
{"data":{"name":"samples"},
"mark":{"type":"text","align":"left","baseline":"middle","fontSize":17,"font":"Noto Sans"},
"encoding":{"text":{"field":"txt"},
"color":{"field":"s","type":"nominal","scale":{"domain":["rGO","HrGO","plain","frame"],"range":["#000000","#ff0000","#000000","#7f7f7f"]},"legend":null}}},
{"data":{"name":"rnotes"},
"mark":{"type":"text","align":"right","baseline":"middle","fontSize":12,"font":"Noto Sans"},
"encoding":{"text":{"field":"txt"},
"color":{"field":"s","type":"nominal","scale":{"domain":["rGO","HrGO","plain","frame"],"range":["#000000","#ff0000","#000000","#7f7f7f"]},"legend":null}}},
{"data":{"name":"heads"},
"mark":{"type":"text","align":"left","baseline":"middle","fontSize":11,"font":"Noto Sans"},
"encoding":{"text":{"field":"txt"},
"color":{"field":"s","type":"nominal","scale":{"domain":["rGO","HrGO","plain","frame"],"range":["#000000","#ff0000","#000000","#7f7f7f"]},"legend":null}}},
{"data":{"name":"rheads"},
"mark":{"type":"text","align":"right","baseline":"middle","fontSize":11,"font":"Noto Sans"},
"encoding":{"text":{"field":"txt"},
"color":{"field":"s","type":"nominal","scale":{"domain":["rGO","HrGO","plain","frame"],"range":["#000000","#ff0000","#000000","#7f7f7f"]},"legend":null}}},
{"data":{"name":"ctitle"},
"mark":{"type":"text","align":"center","baseline":"middle","fontSize":11,"font":"Noto Sans"},
"encoding":{"text":{"field":"txt"},
"color":{"field":"s","type":"nominal","scale":{"domain":["rGO","HrGO","plain","frame"],"range":["#000000","#ff0000","#000000","#7f7f7f"]},"legend":null}}}
]
}
